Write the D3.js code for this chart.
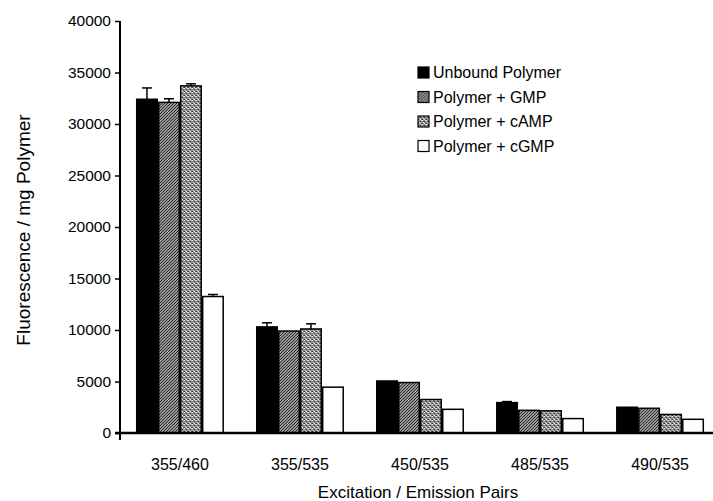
<!DOCTYPE html>
<html>
<head>
<meta charset="utf-8">
<script src="https://cdn.jsdelivr.net/npm/d3@7"></script>
<style>
  body { margin: 0; background: #fff; }
  svg { font-family: "Liberation Sans", Arial, sans-serif; }
</style>
</head>
<body>
<div id="chart"></div>
<script>
// data
const pairs = ["355/460", "355/535", "450/535", "485/535", "490/535"];
const seriesNames = ["Unbound Polymer", "Polymer + GMP", "Polymer + cAMP", "Polymer + cGMP"];
const unbound = [32400, 10300, 5050, 2950, 2500];
const gmp     = [32100, 9900, 4900, 2200, 2400];
const camp    = [33700, 10100, 3250, 2150, 1800];
const cgmp    = [13250, 4450, 2300, 1400, 1330];
const unboundErr = [1100, 400, 0, 100, 0];
const gmpErr     = [350, 0, 0, 0, 0];
const campErr    = [200, 500, 0, 0, 0];
const cgmpErr    = [200, 0, 0, 0, 0];
const yTicks = [0, 5000, 10000, 15000, 20000, 25000, 30000, 35000, 40000];

const values = [unbound, gmp, camp, cgmp];
const errors = [unboundErr, gmpErr, campErr, cgmpErr];

const width = 713, height = 501;
const margin = {top: 21, left: 120, bottom: 68};

const svg = d3.select("#chart").append("svg")
    .attr("width", width).attr("height", height);

// fill patterns
const defs = svg.append("defs");
const hatch = defs.append("pattern")
    .attr("id", "hatch").attr("patternUnits", "userSpaceOnUse")
    .attr("width", 3).attr("height", 3);
hatch.append("rect").attr("width", 3).attr("height", 3).attr("fill", "#d0d0d0");
hatch.append("path").attr("d", "M-1,1 l2,-2 M0,3 l3,-3 M2,4 l2,-2")
    .attr("stroke", "#1a1a1a").attr("stroke-width", 1.1);

const stip = defs.append("pattern")
    .attr("id", "stipple").attr("patternUnits", "userSpaceOnUse")
    .attr("width", 4).attr("height", 4);
stip.append("rect").attr("width", 4).attr("height", 4).attr("fill", "#8f8f8f");
[[0,0,"#eee"],[2,1,"#444"],[1,2,"#ddd"],[3,3,"#555"],[3,0,"#c8c8c8"],[0,3,"#3a3a3a"],[2,3,"#f4f4f4"],[1,1,"#666"]]
  .forEach(([x, y, c]) => stip.append("rect").attr("x", x).attr("y", y)
    .attr("width", 1).attr("height", 1).attr("fill", c));

const fills = ["#000", "url(#hatch)", "url(#stipple)", "#fff"];

const x = d3.scaleBand().domain(pairs)
    .range([margin.left, margin.left + 600])
    .paddingInner(0.267).paddingOuter(0.133);
const xs = d3.scaleBand().domain(d3.range(4)).range([0, x.bandwidth()]);
const y = d3.scaleLinear().domain([0, 40000])
    .range([height - margin.bottom, margin.top]);

// bars
const groups = svg.append("g").selectAll("g")
    .data(pairs).join("g")
    .attr("transform", d => `translate(${x(d)},0)`);

groups.each(function(p, gi) {
  const g = d3.select(this);
  const rows = values.map((v, si) => ({si, v: v[gi], e: errors[si][gi]}));
  g.selectAll("line.err").data(rows.filter(r => r.e > 0)).join("line")
      .attr("class", "err")
      .attr("x1", r => xs(r.si) + xs.bandwidth() / 2)
      .attr("x2", r => xs(r.si) + xs.bandwidth() / 2)
      .attr("y1", r => y(r.v)).attr("y2", r => y(r.v + r.e))
      .attr("stroke", "#000").attr("stroke-width", 1.5);
  g.selectAll("line.cap").data(rows.filter(r => r.e > 0)).join("line")
      .attr("class", "cap")
      .attr("x1", r => xs(r.si) + xs.bandwidth() / 2 - 5)
      .attr("x2", r => xs(r.si) + xs.bandwidth() / 2 + 5)
      .attr("y1", r => y(r.v + r.e)).attr("y2", r => y(r.v + r.e))
      .attr("stroke", "#000").attr("stroke-width", 1.5);
  g.selectAll("rect").data(rows).join("rect")
      .attr("x", r => xs(r.si) + 0.75)
      .attr("width", xs.bandwidth() - 1.5)
      .attr("y", r => y(r.v))
      .attr("height", r => y(0) - y(r.v))
      .attr("fill", r => fills[r.si])
      .attr("stroke", "#000").attr("stroke-width", 1.5);
});

// y axis
const yAxis = svg.append("g")
    .attr("transform", `translate(${margin.left},0)`)
    .call(d3.axisLeft(y).tickValues(yTicks).tickSize(5).tickFormat(d3.format("d")));
yAxis.select(".domain").attr("d", `M0,${margin.top}V${y(0) + 7}`).attr("stroke-width", 2);
yAxis.selectAll(".tick line").attr("stroke-width", 1.5);
yAxis.selectAll(".tick text").attr("font-size", 15.5).attr("x", -9).attr("fill", "#000");

// x axis
svg.append("line")
    .attr("x1", margin.left - 5).attr("x2", width)
    .attr("y1", y(0)).attr("y2", y(0))
    .attr("stroke", "#000").attr("stroke-width", 2.5);
const xAxis = svg.append("g")
    .attr("transform", `translate(0,${y(0)})`)
    .call(d3.axisBottom(x).tickSize(0).tickPadding(26));
xAxis.select(".domain").remove();
xAxis.selectAll(".tick text").attr("font-size", 16).attr("fill", "#000");

// axis titles
svg.append("text")
    .attr("x", 418).attr("y", 498)
    .attr("text-anchor", "middle").attr("font-size", 17)
    .text("Excitation / Emission Pairs");
svg.append("text")
    .attr("transform", `translate(30,${(margin.top + y(0)) / 2 + 3}) rotate(-90)`)
    .attr("text-anchor", "middle").attr("font-size", 19)
    .text("Fluorescence / mg Polymer");

// legend
const legend = svg.append("g").attr("transform", "translate(418,67)");
const item = legend.selectAll("g").data(seriesNames).join("g")
    .attr("transform", (d, i) => `translate(0,${i * 24.5})`);
item.append("rect").attr("width", 11).attr("height", 11)
    .attr("fill", (d, i) => fills[i]).attr("stroke", "#000").attr("stroke-width", 1.2);
item.append("text").attr("x", 15).attr("y", 11)
    .attr("font-size", 16).text(d => d);
</script>
</body>
</html>
